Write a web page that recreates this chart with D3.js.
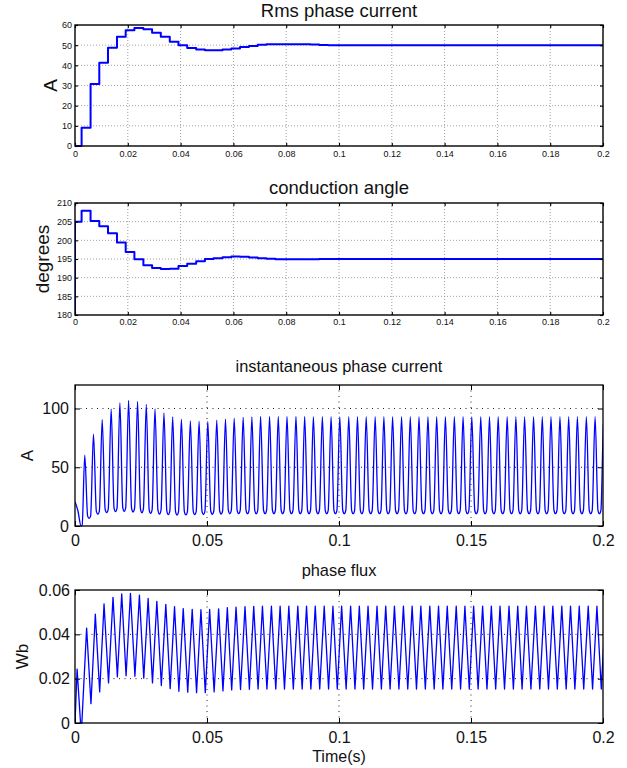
<!DOCTYPE html>
<html>
<head>
<meta charset="utf-8">
<script src="https://cdn.jsdelivr.net/npm/d3@7"></script>
<style>
  body { margin: 0; background: #fff; }
  svg { display: block; font-family: "Liberation Sans", Arial, Helvetica, sans-serif; }
</style>
</head>
<body>
<svg width="627" height="768"></svg>
<script>
///////////////////////////////////////////////////
// Data
///////////////////////////////////////////////////

//  x ticks
let xTicksFine = [0, 0.02, 0.04, 0.06, 0.08, 0.1, 0.12, 0.14, 0.16, 0.18, 0.2];
let xTicksCoarse = [0, 0.05, 0.1, 0.15, 0.2];

//  rms phase current (stepped, value held from each time)
let rmsT = [0, 0.0025, 0.0059, 0.0092, 0.0125, 0.0159, 0.0192, 0.0225, 0.0259, 0.0292,
            0.0325, 0.0359, 0.0392, 0.0425, 0.0459, 0.0492, 0.0525, 0.0559, 0.0592, 0.0625,
            0.0659, 0.0692, 0.0725, 0.0759, 0.0792, 0.0825, 0.0859, 0.0892, 0.0925, 0.0959,
            0.0992, 0.2];
let rmsA = [0, 9.1, 30.7, 41.3, 48.7, 54.2, 57.4, 58.5, 57.9, 56.2,
            54.2, 51.7, 49.9, 48.6, 47.8, 47.5, 47.5, 47.9, 48.4, 49.1,
            49.6, 50.2, 50.4, 50.5, 50.5, 50.5, 50.4, 50.3, 50.1, 50.0,
            49.9, 49.9];
let rmsTicks = [0, 10, 20, 30, 40, 50, 60];

//  conduction angle (stepped)
let angT = [0, 0, 0.0025, 0.0059, 0.0092, 0.0125, 0.0159, 0.0192, 0.0225, 0.0259, 0.0292,
            0.0325, 0.0359, 0.0392, 0.0425, 0.0459, 0.0492, 0.0525, 0.0559, 0.0592, 0.0625,
            0.0659, 0.0692, 0.0725, 0.0759, 0.0792, 0.0825, 0.0859, 0.0892, 0.0925, 0.0959,
            0.0992, 0.2];
let angDeg = [180, 205, 207.9, 205.2, 203.8, 201.9, 199.4, 196.9, 194.9, 193.3, 192.6,
              192.3, 192.4, 193.1, 193.7, 194.4, 195.0, 195.2, 195.5, 195.7, 195.6,
              195.4, 195.2, 195.05, 194.9, 194.9, 194.9, 194.9, 194.95, 195.0, 195.0,
              195.0, 195.0];
let angTicks = [180, 185, 190, 195, 200, 205, 210];

//  instantaneous phase current: start-up points, then peak of each pulse and the trough after it
let curStart = [[0, 20.7], [0.0011, 13], [0.0023, 0], [0.0027, 0.5]];
let curPeakT = [0.0037, 0.0070, 0.0103, 0.0137, 0.0170, 0.0203, 0.0237, 0.0270, 0.0303, 0.0337,
                0.0370, 0.0403, 0.0437, 0.0470, 0.0503, 0.0537, 0.0570, 0.0603, 0.0637, 0.0670,
                0.0703, 0.0737, 0.0770, 0.0803, 0.0837, 0.0870, 0.0903, 0.0937, 0.0970, 0.1003,
                0.1037, 0.1070, 0.1103, 0.1137, 0.1170, 0.1203, 0.1237, 0.1270, 0.1303, 0.1337,
                0.1370, 0.1403, 0.1437, 0.1470, 0.1503, 0.1537, 0.1570, 0.1603, 0.1637, 0.1670,
                0.1703, 0.1737, 0.1770, 0.1803, 0.1837, 0.1870, 0.1903, 0.1937, 0.1970, 0.2003];
let curPeak = [60.3, 78.2, 90.6, 99.5, 104.8, 106.8, 106.0, 103.4, 99.7, 96.3,
               92.9, 90.9, 89.5, 89.2, 89.0, 90.0, 91.0, 91.8, 92.5, 92.9,
               93.2, 93.3, 93.3, 93.3, 93.2, 93.2, 93.1, 93.1, 93.1, 93.1,
               93.1, 93.1, 93.1, 93.1, 93.1, 93.1, 93.1, 93.1, 93.1, 93.1,
               93.1, 93.1, 93.1, 93.1, 93.1, 93.1, 93.1, 93.1, 93.1, 93.1,
               93.1, 93.1, 93.1, 93.1, 93.1, 93.1, 93.1, 93.1, 93.1, 93.1];
let curLow = [6.5, 10.0, 11.3, 12.2, 12.5, 12.0, 11.3, 10.8, 10.2, 9.6,
              9.4, 9.4, 9.6, 9.8, 10.0, 10.2, 10.4, 10.5, 10.5, 10.5,
              10.5, 10.5, 10.5, 10.5, 10.5, 10.5, 10.5, 10.5, 10.5, 10.5,
              10.5, 10.5, 10.5, 10.5, 10.5, 10.5, 10.5, 10.5, 10.5, 10.5,
              10.5, 10.5, 10.5, 10.5, 10.5, 10.5, 10.5, 10.5, 10.5, 10.5,
              10.5, 10.5, 10.5, 10.5, 10.5, 10.5, 10.5, 10.5, 10.5, 10.5];
let curTicks = [0, 50, 100];

//  phase flux: start-up points, then peak of each cycle and the trough after it
let fluxStart = [[0, 0], [0.0008, 0.0243], [0.0021, 0], [0.0026, 0]];
let fluxPeakT = [0.0044, 0.0077, 0.0110, 0.0144, 0.0177, 0.0210, 0.0244, 0.0277, 0.0310, 0.0344,
                 0.0377, 0.0410, 0.0444, 0.0477, 0.0510, 0.0544, 0.0577, 0.0610, 0.0644, 0.0677,
                 0.0710, 0.0744, 0.0777, 0.0810, 0.0844, 0.0877, 0.0910, 0.0944, 0.0977, 0.1010,
                 0.1044, 0.1077, 0.1110, 0.1144, 0.1177, 0.1210, 0.1244, 0.1277, 0.1310, 0.1344,
                 0.1377, 0.1410, 0.1444, 0.1477, 0.1510, 0.1544, 0.1577, 0.1610, 0.1644, 0.1677,
                 0.1710, 0.1744, 0.1777, 0.1810, 0.1844, 0.1877, 0.1910, 0.1944, 0.1977, 0.2010];
let fluxPeak = [0.0428, 0.0491, 0.0537, 0.0567, 0.0582, 0.0585, 0.0577, 0.0562, 0.0549, 0.0535,
                0.0525, 0.0516, 0.0513, 0.0511, 0.0512, 0.0515, 0.0520, 0.0523, 0.0525, 0.0526,
                0.0527, 0.0527, 0.0527, 0.0527, 0.0527, 0.0527, 0.0527, 0.0527, 0.0527, 0.0527,
                0.0527, 0.0527, 0.0527, 0.0527, 0.0527, 0.0527, 0.0527, 0.0527, 0.0527, 0.0527,
                0.0527, 0.0527, 0.0527, 0.0527, 0.0527, 0.0527, 0.0527, 0.0527, 0.0527, 0.0527,
                0.0527, 0.0527, 0.0527, 0.0527, 0.0527, 0.0527, 0.0527, 0.0527, 0.0527, 0.0527];
let fluxLow = [0.0087, 0.0140, 0.0181, 0.0208, 0.0213, 0.0211, 0.0202, 0.0181, 0.0169, 0.0155,
               0.0143, 0.0139, 0.0137, 0.0137, 0.0140, 0.0145, 0.0149, 0.0151, 0.0152, 0.0153,
               0.0153, 0.0153, 0.0153, 0.0153, 0.0153, 0.0153, 0.0153, 0.0153, 0.0153, 0.0153,
               0.0153, 0.0153, 0.0153, 0.0153, 0.0153, 0.0153, 0.0153, 0.0153, 0.0153, 0.0153,
               0.0153, 0.0153, 0.0153, 0.0153, 0.0153, 0.0153, 0.0153, 0.0153, 0.0153, 0.0153,
               0.0153, 0.0153, 0.0153, 0.0153, 0.0153, 0.0153, 0.0153, 0.0153, 0.0153, 0.0153];
let fluxTicks = [0, 0.02, 0.04, 0.06];


///////////////////////////////////////////////////
// Setup
///////////////////////////////////////////////////

let svg = d3.select("svg");
let LEFT = 75, RIGHT = 603;

let fmt = function(d) { return String(+d.toFixed(4)); };

//  waveform point builders: peaks + troughs (trough midway between peaks)
function pulsePoints(start, peakT, peaks, lows, shoulder) {
  let pts = start.slice();
  peakT.forEach(function(t, i) {
    pts.push([t, peaks[i]]);
    let next = i < peakT.length - 1 ? peakT[i + 1] : t + (t - peakT[i - 1]);
    let mid = (t + next) / 2;
    if (shoulder) {
      let w = (next - t) * shoulder;
      let lift = (peaks[i] - lows[i]) * 0.035;
      pts.push([mid - w, lows[i] + lift]);
      pts.push([mid, lows[i]]);
      pts.push([mid + w, lows[i] + lift]);
    } else {
      pts.push([mid, lows[i]]);
    }
  });
  return pts;
}


///////////////////////////////////////////////////
// Panel drawing
///////////////////////////////////////////////////

function drawPanel(p) {
  let x = d3.scaleLinear().domain([0, 0.2]).range([LEFT, RIGHT]);
  let y = d3.scaleLinear().domain(p.yDomain).range([p.bottom, p.top]);
  let h = p.bottom - p.top, w = RIGHT - LEFT;

  let g = svg.append("g");
  let clipId = "clip" + p.id;
  g.append("clipPath").attr("id", clipId)
    .append("rect").attr("x", LEFT).attr("y", p.top - 2).attr("width", w).attr("height", h + 4);

  //  grid (skip lines that sit on the frame)
  let inX = p.xTicks.filter(function(d) { return d > 0 && d < 0.2; });
  let inY = p.yTicks.filter(function(d) { return d > p.yDomain[0] && d < p.yDomain[1]; });
  let grid = g.append("g").attr("class", "grid");
  grid.selectAll(".vg").data(inX).enter().append("line")
    .attr("x1", function(d) { return x(d); }).attr("x2", function(d) { return x(d); })
    .attr("y1", p.top).attr("y2", p.bottom);
  grid.selectAll(".hg").data(inY).enter().append("line")
    .attr("x1", LEFT).attr("x2", RIGHT)
    .attr("y1", function(d) { return y(d); }).attr("y2", function(d) { return y(d); });
  grid.selectAll("line")
    .attr("stroke", p.gridColor)
    .attr("stroke-width", p.gridWidth)
    .attr("stroke-dasharray", p.gridDash);

  //  data line
  g.append("path")
    .datum(p.points)
    .attr("clip-path", "url(#" + clipId + ")")
    .attr("fill", "none")
    .attr("stroke", "#0000ff")
    .attr("stroke-width", p.lineWidth)
    .attr("stroke-linejoin", "round")
    .attr("d", d3.line()
      .x(function(d) { return x(d[0]); })
      .y(function(d) { return y(d[1]); })
      .curve(p.curve));

  //  axes with inward ticks
  let bottomAxis = g.append("g")
    .attr("transform", "translate(0," + p.bottom + ")")
    .call(d3.axisBottom(x).tickValues(p.xTicks).tickSize(-p.tick).tickPadding(p.xPad).tickFormat(fmt));
  let leftAxis = g.append("g")
    .attr("transform", "translate(" + LEFT + ",0)")
    .call(d3.axisLeft(y).tickValues(p.yTicks).tickSize(-p.tick).tickPadding(p.yPad).tickFormat(fmt));
  let topAxis = g.append("g")
    .attr("transform", "translate(0," + p.top + ")")
    .call(d3.axisTop(x).tickValues(p.xTicks).tickSize(-p.tick).tickFormat(""));
  let rightAxis = g.append("g")
    .attr("transform", "translate(" + RIGHT + ",0)")
    .call(d3.axisRight(y).tickValues(p.yTicks).tickSize(-p.tick).tickFormat(""));

  [bottomAxis, leftAxis, topAxis, rightAxis].forEach(function(a) {
    a.attr("font-family", null).attr("font-size", p.tickFont).attr("color", "#111");
    a.select(".domain").remove();
    a.selectAll("line").attr("stroke", "#000").attr("stroke-width", p.frameWidth * 0.8);
  });

  //  frame
  g.append("rect")
    .attr("x", LEFT).attr("y", p.top).attr("width", w).attr("height", h)
    .attr("fill", "none").attr("stroke", "#000").attr("stroke-width", p.frameWidth);

  //  title
  g.append("text")
    .attr("x", (LEFT + RIGHT) / 2).attr("y", p.titleY)
    .attr("text-anchor", "middle")
    .attr("font-size", p.titleFont)
    .attr("fill", "#111")
    .text(p.title);

  //  y label
  g.append("text")
    .attr("transform", "translate(" + p.ylabelX + "," + (p.top + p.bottom) / 2 + ") rotate(-90)")
    .attr("text-anchor", "middle")
    .attr("font-size", p.ylabelFont)
    .attr("fill", "#111")
    .text(p.ylabel);

  return { x: x, y: y };
}


///////////////////////////////////////////////////
// Build panels
///////////////////////////////////////////////////

drawPanel({
  id: 1, top: 25, bottom: 146, yDomain: [0, 60], yTicks: rmsTicks, xTicks: xTicksFine,
  points: rmsT.map(function(t, i) { return [t, rmsA[i]]; }),
  curve: d3.curveStepAfter, lineWidth: 2,
  gridColor: "#888", gridDash: "1,2", gridWidth: 0.8,
  tick: 3, xPad: 5, yPad: 3, tickFont: "9px", frameWidth: 1.4,
  title: "Rms phase current", titleY: 17, titleFont: "18.5px",
  ylabel: "A", ylabelX: 57, ylabelFont: "19px"
});

drawPanel({
  id: 2, top: 203, bottom: 315, yDomain: [180, 210], yTicks: angTicks, xTicks: xTicksFine,
  points: angT.map(function(t, i) { return [t, angDeg[i]]; }),
  curve: d3.curveStepAfter, lineWidth: 2,
  gridColor: "#888", gridDash: "1,2", gridWidth: 0.8,
  tick: 3, xPad: 4, yPad: 3, tickFont: "9px", frameWidth: 1.4,
  title: "conduction angle", titleY: 194, titleFont: "18.5px",
  ylabel: "degrees", ylabelX: 48.5, ylabelFont: "19px"
});

drawPanel({
  id: 3, top: 385, bottom: 526, yDomain: [0, 120], yTicks: curTicks, xTicks: xTicksCoarse,
  points: pulsePoints(curStart, curPeakT, curPeak, curLow, 0.17),
  curve: d3.curveMonotoneX, lineWidth: 1.3,
  gridColor: "#222", gridDash: "1,4.5", gridWidth: 1,
  tick: 5, xPad: 9, yPad: 6, tickFont: "16px", frameWidth: 1.3,
  title: "instantaneous phase current", titleY: 372, titleFont: "16.4px",
  ylabel: "A", ylabelX: 32.5, ylabelFont: "17px"
});

drawPanel({
  id: 4, top: 590, bottom: 723, yDomain: [0, 0.06], yTicks: fluxTicks, xTicks: xTicksCoarse,
  points: pulsePoints(fluxStart, fluxPeakT, fluxPeak, fluxLow, 0),
  curve: d3.curveLinear, lineWidth: 1.3,
  gridColor: "#222", gridDash: "1,4.5", gridWidth: 1,
  tick: 5, xPad: 9, yPad: 5, tickFont: "16px", frameWidth: 1.3,
  title: "phase flux", titleY: 576, titleFont: "16.4px",
  ylabel: "Wb", ylabelX: 28, ylabelFont: "17px"
});

//  x label
svg.append("text")
  .attr("x", (LEFT + RIGHT) / 2).attr("y", 762)
  .attr("text-anchor", "middle")
  .attr("font-size", "16px")
  .attr("fill", "#111")
  .text("Time(s)");
</script>
</body>
</html>
